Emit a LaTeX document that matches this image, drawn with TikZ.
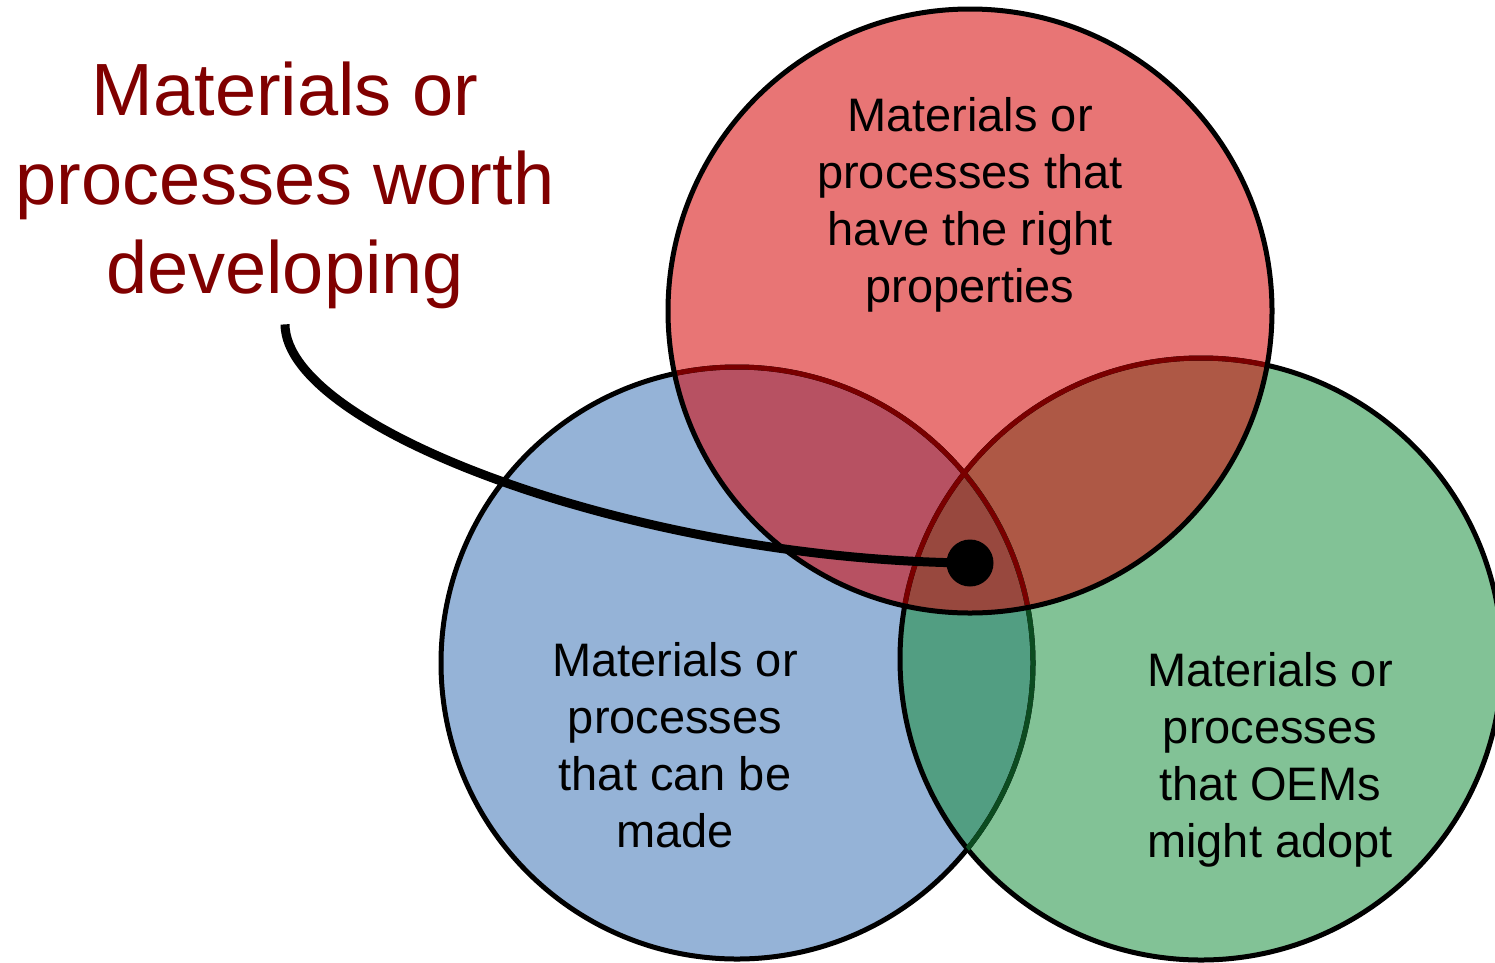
\documentclass[tikz,border=0pt]{standalone}
\usepackage{fontspec}
\setmainfont{Liberation Sans}
\usetikzlibrary{positioning}

\definecolor{redfill}{RGB}{232,117,117}
\definecolor{bluefill}{RGB}{149,179,215}
\definecolor{greenfill}{RGB}{130,194,150}
\definecolor{redblue}{RGB}{183,81,98}
\definecolor{redgreen}{RGB}{174,88,69}
\definecolor{bluegreen}{RGB}{82,158,130}
\definecolor{allthree}{RGB}{152,72,62}
\definecolor{titlered}{RGB}{128,0,0}
\definecolor{innerred}{RGB}{122,0,0}
\definecolor{innergreen}{RGB}{12,75,32}

\begin{document}
\begin{tikzpicture}[x=1pt, y=-1pt,
        labelnode/.style={align=center, anchor=north, inner sep=0pt, font=\fontsize{47}{57}\selectfont},
        titlenode/.style={align=center, anchor=north, inner sep=0pt, text=titlered, font=\fontsize{74}{89}\selectfont},
        ringline/.style={line width=5pt}]

        \clip (0,0) rectangle (1495,962);

        \def\radR{302pt}
        \def\radB{296pt}
        \def\radG{301pt}
        \coordinate (R) at (970,311);
        \coordinate (B) at (737,663);
        \coordinate (G) at (1201,659);

        % circle fills
        \fill[bluefill] (B) circle[radius=\radB];
        \fill[greenfill] (G) circle[radius=\radG];
        \fill[redfill] (R) circle[radius=\radR];
        \begin{scope}
            \clip (G) circle[radius=\radG];
            \fill[redgreen] (R) circle[radius=\radR];
        \end{scope}
        \begin{scope}
            \clip (B) circle[radius=\radB];
            \fill[bluegreen] (G) circle[radius=\radG];
            \fill[redblue] (R) circle[radius=\radR];
            \clip (G) circle[radius=\radG];
            \fill[allthree] (R) circle[radius=\radR];
        \end{scope}

        % circle outlines
        \draw[ringline] (B) circle[radius=\radB];
        \draw[ringline] (G) circle[radius=\radG];
        \begin{scope}
            \clip (G) circle[radius=\radG];
            \draw[ringline, innergreen] (B) circle[radius=\radB];
        \end{scope}
        \begin{scope}
            \clip (R) circle[radius=\radR];
            \draw[ringline, innerred] (B) circle[radius=\radB];
            \draw[ringline, innerred] (G) circle[radius=\radG];
        \end{scope}
        \draw[ringline] (R) circle[radius=\radR];

        % labels
        \node[labelnode] (redtext) at (970,97) {Materials or\\processes that\\have the right\\properties};
        \node[labelnode] (bluetext) at (675,642) {Materials or\\processes\\that can be\\made};
        \node[labelnode] (greentext) at (1270,652) {Materials or\\processes\\that OEMs\\might adopt};
        \node[titlenode] (title) at (285,62) {Materials or\\processes worth\\developing};

        % pointer
        \node[circle, fill=black, minimum size=47pt, inner sep=0pt] (dot) at (970,563) {};
        \coordinate[below=15pt of title] (tail);
        \draw[line width=9pt] (tail) .. controls (286,430) and (640,560) .. (dot.center);

\end{tikzpicture}
\end{document}
